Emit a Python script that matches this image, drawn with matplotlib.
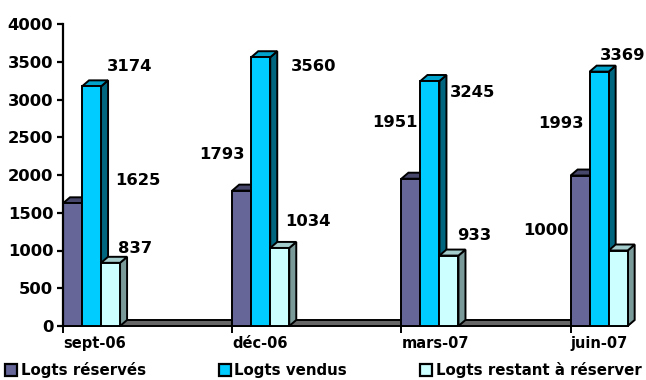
import numpy as np
import matplotlib.pyplot as plt
from matplotlib.patches import Polygon, Patch

periods = ['sept-06', 'déc-06', 'mars-07', 'juin-07']
series_names = ['Logts réservés', 'Logts vendus', 'Logts restant à réserver']
reserves = [1625, 1793, 1951, 1993]
vendus = [3174, 3560, 3245, 3369]
restants = [837, 1034, 933, 1000]

# label offsets in pixels from each bar's top centre (x, up)
label_offsets = [
    [(65, 23), (-20, 36), (-16, 56), (-19, 52)],
    [(38, 20), (53, -9), (43, -11), (23, 16)],
    [(25, 14), (28, 26), (25, 20), (-72, 20)],
]

fronts = ['#666699', '#00ccff', '#ccffff']
tops = ['#47476b', '#00a3cc', '#a3cccc']
sides = ['#3d3d5c', '#006680', '#7a9999']

plt.rcParams['font.family'] = 'DejaVu Sans'
plt.rcParams['font.weight'] = 'bold'

fig = plt.figure(figsize=(6.46, 3.80), dpi=100)
ax = fig.add_axes([63 / 646, 54 / 380, 564 / 646, 302 / 380])

xmax = 10 / 3
ax.set_xlim(0, xmax)
ax.set_ylim(0, 4000)

bar_w = 19 / 169
dx = 7 / 169          # depth offset, x data units
dy = 6 / (302 / 4000)  # depth offset, y data units
lw = 1.4

# floor strip
floor = Polygon([(0, 0), (xmax, 0), (xmax + dx, dy), (dx, dy)], closed=True,
                facecolor='#666666', edgecolor='black', lw=lw, clip_on=False, zorder=1)
ax.add_patch(floor)

data = [reserves, vendus, restants]
x = np.arange(len(periods))
z = 2
for g in range(len(periods)):
    for s in range(3):
        v = data[s][g]
        x0 = x[g] + s * bar_w
        x1 = x0 + bar_w
        side = Polygon([(x1, 0), (x1 + dx, dy), (x1 + dx, v + dy), (x1, v)], closed=True,
                       facecolor=sides[s], edgecolor='black', lw=lw, clip_on=False, zorder=z)
        top = Polygon([(x0, v), (x1, v), (x1 + dx, v + dy), (x0 + dx, v + dy)], closed=True,
                      facecolor=tops[s], edgecolor='black', lw=lw, clip_on=False, zorder=z)
        front = Polygon([(x0, 0), (x1, 0), (x1, v), (x0, v)], closed=True,
                        facecolor=fronts[s], edgecolor='black', lw=lw, clip_on=False, zorder=z)
        for p in (side, top, front):
            ax.add_patch(p)
        z += 1
        ox, oy = label_offsets[s][g]
        ax.annotate(str(v), xy=(x0 + bar_w / 2, v), xytext=(ox, oy),
                    textcoords='offset pixels', ha='center', va='center',
                    fontsize=11.8, fontweight='bold', zorder=50)

for sp in ['top', 'right', 'bottom']:
    ax.spines[sp].set_visible(False)
ax.spines['left'].set_linewidth(1.6)
ax.spines['left'].set_zorder(40)

ax.set_yticks(np.arange(0, 4001, 500))
ax.tick_params(axis='y', length=4, width=1.6, pad=3, labelsize=11.8)
ax.set_xticks(x)
ax.set_xticklabels(periods, ha='left')
ax.tick_params(axis='x', length=5, width=1.4, pad=2, labelsize=10.5)
for lab in ax.get_xticklabels() + ax.get_yticklabels():
    lab.set_fontweight('bold')

handles = [Patch(facecolor=c, edgecolor='black', lw=1.6) for c in fronts]
fig.legend(handles, series_names, loc='center left', bbox_to_anchor=(5 / 646, 10 / 380),
           ncol=3, frameon=False, handlelength=0.8, handleheight=0.8,
           handletextpad=0.25, columnspacing=4.85, borderpad=0, borderaxespad=0,
           prop={'weight': 'bold', 'size': 10.8})

fig.savefig('out.png', dpi=100)
